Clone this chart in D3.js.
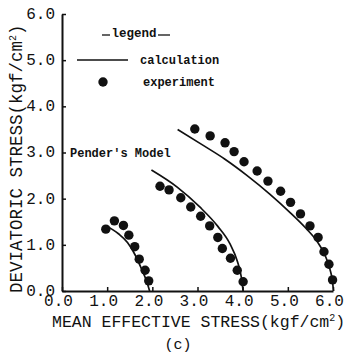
<!DOCTYPE html>
<html>
<head>
<meta charset="utf-8">
<script src="https://d3js.org/d3.v7.min.js"></script>
<style>
  body { margin: 0; background: #fff; }
</style>
</head>
<body>
<div id="chart"></div>
<script>
var FONT = "'Liberation Mono', 'DejaVu Sans Mono', 'Courier New', monospace";

// tick values
var xTicks = [0, 1, 2, 3, 4, 5, 6];
var yTicks = [0, 1, 2, 3, 4, 5, 6];

// calculation curves (mean effective stress p, deviatoric stress q)
var calc1 = [[1.00, 1.40], [1.25, 1.24], [1.45, 1.05], [1.62, 0.78], [1.76, 0.48], [1.87, 0.22], [1.94, 0.0]];
var calc2 = [[1.98, 2.62], [2.55, 2.25], [3.05, 1.82], [3.45, 1.40], [3.72, 1.02], [3.88, 0.65],
             [3.97, 0.30], [4.01, 0.0]];
var calc3 = [[2.56, 3.50], [3.10, 3.17], [3.60, 2.86], [4.10, 2.50], [4.60, 2.10], [5.05, 1.70],
             [5.40, 1.36], [5.65, 1.07], [5.82, 0.78], [5.93, 0.48], [5.99, 0.20], [6.01, 0.0]];

// experiment points
var exp1 = [[0.97, 1.34], [1.16, 1.52], [1.36, 1.42], [1.48, 1.21], [1.61, 0.96], [1.71, 0.69],
            [1.84, 0.45], [1.92, 0.22]];
var exp2 = [[2.17, 2.27], [2.37, 2.19], [2.63, 2.02], [2.85, 1.82], [3.07, 1.62], [3.27, 1.41],
            [3.45, 1.16], [3.55, 0.92], [3.73, 0.71], [3.88, 0.45], [4.01, 0.20]];
var exp3 = [[2.94, 3.51], [3.28, 3.36], [3.61, 3.21], [3.81, 3.02], [4.03, 2.80], [4.32, 2.60],
            [4.56, 2.38], [4.84, 2.16], [5.06, 1.92], [5.28, 1.67], [5.49, 1.41], [5.67, 1.16],
            [5.80, 0.85], [5.91, 0.58], [5.99, 0.24]];

var W = 349, H = 354;

var svg = d3.select("#chart").append("svg")
    .attr("width", W)
    .attr("height", H);

svg.append("rect").attr("width", W).attr("height", H).attr("fill", "#fff");

var x = d3.scaleLinear().domain([0, 6]).range([62, 333]);
var y = d3.scaleLinear().domain([0, 6]).range([291, 14]);

// Y axis
var gy = svg.append("g")
    .attr("transform", "translate(62,0)")
    .call(d3.axisLeft(y).tickValues(yTicks).tickFormat(d3.format(".1f"))
      .tickSizeInner(-4).tickSizeOuter(0).tickPadding(7));
gy.selectAll("text").style("font-size", "16px").attr("dy", "0.28em");

// X axis
var gx = svg.append("g")
    .attr("transform", "translate(0,291)")
    .call(d3.axisBottom(x).tickValues(xTicks).tickFormat(d3.format(".1f"))
      .tickSizeInner(-4).tickSizeOuter(0).tickPadding(4));
gx.selectAll("text").style("font-size", "16px").attr("dx", -4);

svg.selectAll(".domain").attr("stroke", "#111").attr("stroke-width", 2);
svg.selectAll(".tick line").attr("stroke", "#111").attr("stroke-width", 1.5);

// axis titles
var xt = svg.append("text")
    .attr("x", 52).attr("y", 327)
    .style("font-size", "16.5px");
xt.append("tspan").text("MEAN EFFECTIVE STRESS(kgf/cm");
xt.append("tspan").attr("dy", -6).style("font-size", "10px").text("2");
xt.append("tspan").attr("dy", 6).text(")");

var yt = svg.append("text")
    .attr("transform", "translate(22,293) rotate(-90)")
    .style("font-size", "17.5px");
yt.append("tspan").text("DEVIATORIC STRESS(kgf/cm");
yt.append("tspan").attr("dy", -6).style("font-size", "10px").text("2");
yt.append("tspan").attr("dy", 6).text(")");

// calculation lines
var line = d3.line()
    .x(function (d) { return x(d[0]); })
    .y(function (d) { return y(d[1]); })
    .curve(d3.curveMonotoneX);

svg.append("g").selectAll("path")
    .data([calc1, calc2, calc3])
    .enter().append("path")
      .attr("d", line)
      .attr("fill", "none")
      .attr("stroke", "#111")
      .attr("stroke-width", 1.7);

// experiment dots
svg.append("g").selectAll("circle")
    .data(exp1.concat(exp2, exp3))
    .enter().append("circle")
      .attr("cx", function (d) { return x(d[0]); })
      .attr("cy", function (d) { return y(d[1]); })
      .attr("r", 4.7)
      .attr("fill", "#111");

// legend
svg.append("line").attr("x1", 102).attr("x2", 110).attr("y1", 35).attr("y2", 35)
    .attr("stroke", "#111").attr("stroke-width", 1.3);
svg.append("line").attr("x1", 158).attr("x2", 170).attr("y1", 35).attr("y2", 35)
    .attr("stroke", "#111").attr("stroke-width", 1.3);
svg.append("text").attr("x", 134).attr("y", 37)
    .attr("text-anchor", "middle")
    .style("font-size", "12.5px").style("font-weight", "bold")
    .text("legend");

svg.append("line").attr("x1", 77).attr("x2", 128).attr("y1", 60).attr("y2", 60)
    .attr("stroke", "#111").attr("stroke-width", 1.7);
svg.append("text").attr("x", 140).attr("y", 64)
    .style("font-size", "12px").style("font-weight", "bold")
    .text("calculation");

svg.append("circle").attr("cx", 103).attr("cy", 82).attr("r", 4.7).attr("fill", "#111");
svg.append("text").attr("x", 143).attr("y", 86)
    .style("font-size", "12px").style("font-weight", "bold")
    .text("experiment");

svg.append("text").attr("x", 70).attr("y", 157)
    .style("font-size", "12px").style("font-weight", "bold")
    .text("Pender's Model");

svg.append("text").attr("x", 178).attr("y", 349)
    .attr("text-anchor", "middle")
    .style("font-size", "15px")
    .text("(c)");

// typewriter look for every label
svg.selectAll("text").style("font-family", FONT).attr("fill", "#111");
</script>
</body>
</html>
